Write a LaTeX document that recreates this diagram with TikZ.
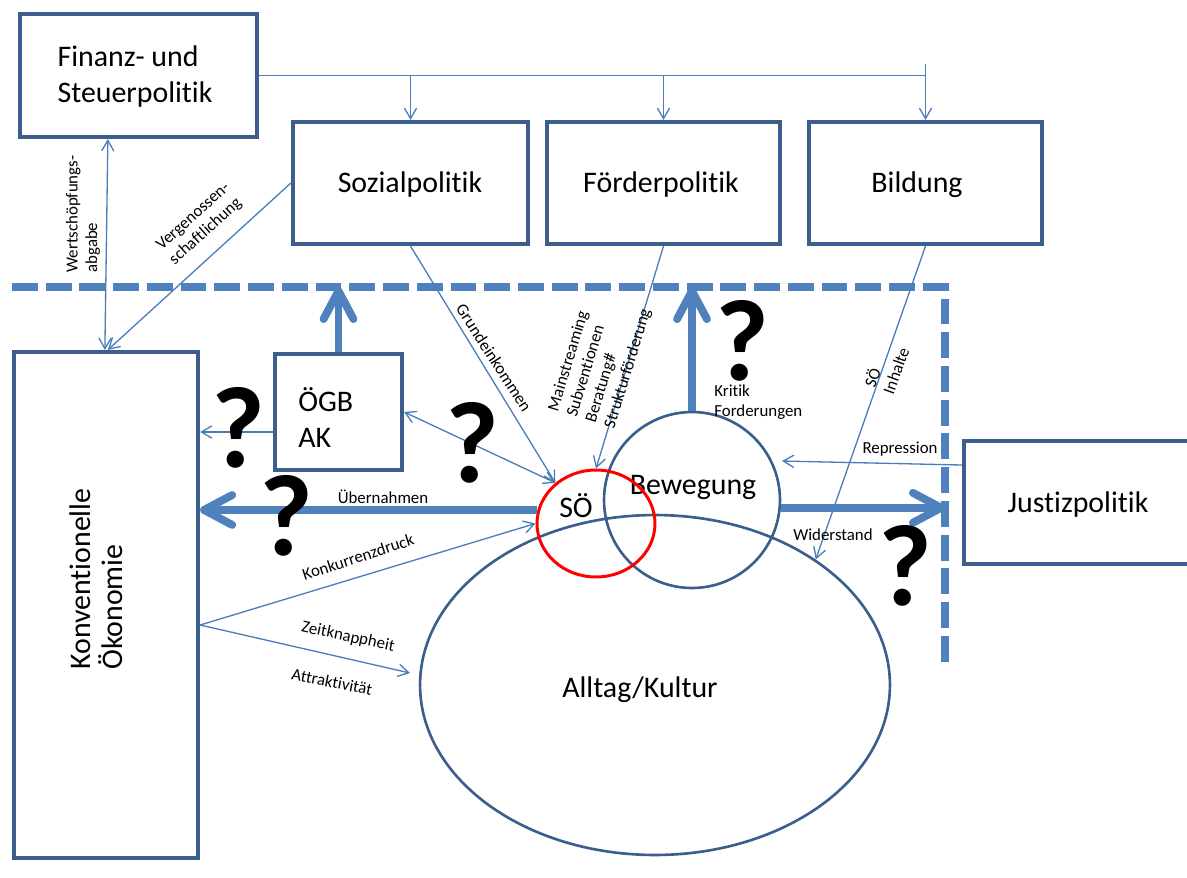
\documentclass[tikz,border=0pt]{standalone}
\usepackage{fontspec}
\setmainfont{Carlito}[Ligatures=NoCommon]
\usetikzlibrary{arrows.meta,fit,shapes.geometric}
\definecolor{boxc}{HTML}{3B5E8C}
\definecolor{linec}{HTML}{4A7EBB}
\definecolor{thickc}{HTML}{4F81BD}
\definecolor{soRed}{HTML}{FF0000}
\begin{document}
\begin{tikzpicture}[x=0.02cm,y=-0.02cm,
  box/.style={draw=boxc,line width=2.4pt,inner sep=0pt},
  bigtxt/.style={font=\fontsize{17}{20.5}\selectfont,inner sep=0pt},
  lbl/.style={font=\fontsize{9.6}{11.2}\selectfont,inner sep=0pt},
  conn/.style={draw=linec,line width=0.75pt},
  arr/.style={conn,-{Straight Barb[length=6pt,width=7pt]}},
  darr/.style={conn,{Straight Barb[length=6pt,width=7pt]}-{Straight Barb[length=6pt,width=7pt]}},
  fat/.style={draw=thickc,line width=4.5pt,-{Straight Barb[length=16pt,width=17pt,round]}},
  qm/.style={font=\fontsize{66}{66}\selectfont\bfseries,inner sep=0pt},
  bound/.style={draw=thickc,line width=5.1pt,dash pattern=on 14.7pt off 4.5pt},
]
\useasboundingbox (0,0) rectangle (1187,877);
\clip (0,0) rectangle (1187,877);

% boundary
\coordinate (dashL) at (12,287);
\coordinate (dashC) at (945,287);
\coordinate (dashB) at (945,665);
\draw[bound] (dashL) -- (dashC) -- (dashB);

% boxes
\node[box,fit={(20,14)(257,137)}] (fin) {};
\node[bigtxt,align=left] (fintxt) at (135,77) {Finanz- und\\Steuerpolitik};
\node[box,fit={(293,122)(528,244)}] (soz) {};
\node[bigtxt] (soztxt) at (410,185) {Sozialpolitik};
\node[box,fit={(547,122)(780,244)}] (foer) {};
\node[bigtxt] (foertxt) at (661,185) {Förderpolitik};
\node[box,fit={(809,122)(1042,244)}] (bild) {};
\node[bigtxt] (bildtxt) at (917,185) {Bildung};
\node[box,fit={(275,354)(402,470)}] (oegb) {};
\node[bigtxt,anchor=west,align=left] (oegbtxt) at (298,418) {ÖGB\\AK};
\node[box,fit={(14,352)(198,858)}] (konv) {};
\node[bigtxt,rotate=90,align=left,font=\fontsize{17}{18.5}\selectfont] (konvtxt) at (96,579) {Konventionelle\\Ökonomie};
\node[box,fit={(964,441)(1192,564)}] (just) {};
\node[bigtxt] (justtxt) at (1078,505) {Justizpolitik};

% circles
\node[draw=boxc,line width=1.5pt,ellipse,minimum width=9.4cm,minimum height=6.8cm,inner sep=0pt] (all) at (655,685) {};
\node[bigtxt] (alltxt) at (640,690) {Alltag/Kultur};
\node[draw=boxc,line width=1.5pt,circle,minimum size=3.52cm,inner sep=0pt] (bew) at (692,500) {};
\node[bigtxt] (bewtxt) at (693,487) {Bewegung};
\node[draw=soRed,line width=1.7pt,ellipse,minimum width=2.36cm,minimum height=2.14cm,inner sep=0pt] (so) at (596,523.5) {};
\node[bigtxt] (sotxt) at (576,506) {SÖ};

% fan from Finanz
\coordinate (fanR) at (bild.north |- fin.east);
\coordinate (fanTop) at ([yshift=0.24cm]fanR);
\draw[conn] (fin.east) -- (fanR);
\draw[arr] (fanTop) -- (bild.north);
\draw[arr] (soz.north |- fin.east) -- (soz.north);
\draw[arr] (foer.north |- fin.east) -- (foer.north);

% Wertschoepfungsabgabe
\draw[darr] ([xshift=1.8cm]fin.south west) -- ([xshift=1.86cm]konv.north west);
\node[lbl,rotate=90,align=left] (wlbl) at (83,214) {Wertschöpfungs-\\abgabe};

% Vergenossenschaftlichung
\draw[arr] (soz.west) -- ([xshift=1.92cm]konv.north west);
\node[lbl,rotate=42,align=left] (vlbl) at (200,224) {Vergenossen-\\schaftlichung};

% OeGB
\draw[fat] (oegb.north) -- (oegb.north |- dashL);
\coordinate (ow) at ([yshift=-0.4cm]oegb.west);
\draw[arr] (ow) -- (konv.east |- ow);
\draw[darr] (oegb.east) -- (so.135);

% Grundeinkommen
\draw[arr] (soz.south) -- (so.135);
\node[lbl,rotate=-57] (glbl) at (494,358) {Grundeinkommen};

% Foerderpolitik
\draw[arr] (foer.south) -- (so.north);
\node[lbl,rotate=73,align=left] (flbl) at (600,360) {Mainstreaming\\Subventionen\\Beratung\#\\Strukturförderung};

% Bewegung up
\draw[fat] (bew.north) -- (bew.north |- dashL);
\node[lbl,anchor=west,align=left] (klbl) at (714,402) {Kritik\\Forderungen};

% Bildung
\draw[arr] (bild.south) -- (all.38);
\node[lbl,rotate=70,align=left] (slbl) at (886,367) {SÖ\\Inhalte};

% Repression
\coordinate (jw) at ([yshift=0.75cm]just.west);
\coordinate (reptip) at (782,461);
\draw[arr] (jw) -- (reptip);
\node[lbl] (rlbl) at (900,449) {Repression};

% Widerstand
\draw[fat] (bew.-5) -- (bew.-5 -| dashC);
\node[lbl] (wdlbl) at (833,535) {Widerstand};

% Uebernahmen
\draw[fat] (so.167) -- (so.167 -| konv.east);
\node[lbl] (ulbl) at (383,497) {Übernahmen};

% Konkurrenzdruck etc.
\coordinate (ke) at ([yshift=-0.4cm]konv.east);
\draw[arr] (ke) -- (so.west);
\node[lbl,rotate=18] (kklbl) at (358,557) {Konkurrenzdruck};
\coordinate (zktip) at (410,673);
\draw[arr] (ke) -- (zktip);
\node[lbl,rotate=-12] (zlbl) at (348,637) {Zeitknappheit};
\node[lbl,rotate=-11] (albl) at (332,682) {Attraktivität};

% question marks
\node[qm] (q1) at (238,428) {?};
\node[qm] (q2) at (472,443) {?};
\node[qm] (q3) at (286,516) {?};
\node[qm] (q4) at (742,341) {?};
\node[qm] (q5) at (905,566) {?};
\end{tikzpicture}
\end{document}
